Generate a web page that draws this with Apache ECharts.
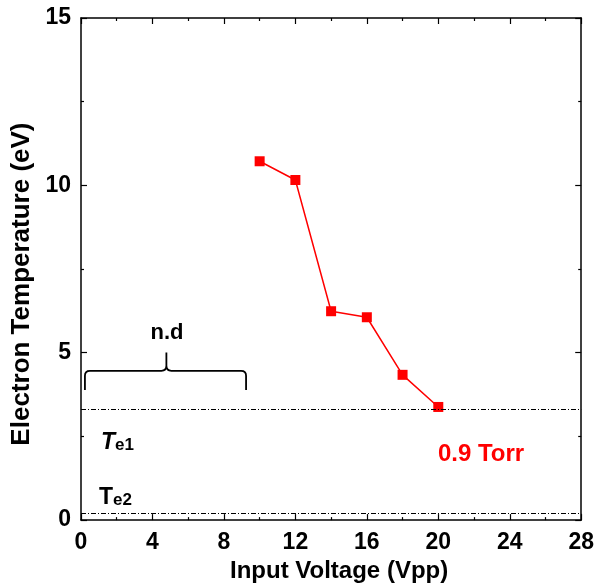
<!DOCTYPE html>
<html>
<head>
<meta charset="utf-8">
<script src="https://cdn.jsdelivr.net/npm/echarts@6/dist/echarts.min.js"></script>
<style>
  html, body { margin: 0; padding: 0; background: #fff; }
  #main { width: 597px; height: 588px; }
</style>
</head>
<body>
<div id="main"></div>
<script>
// data
var voltage = [10, 12, 14, 16, 18, 20];
var temperature = [10.72, 10.16, 6.24, 6.06, 4.34, 3.38];
var te1Level = 3.3;
var te2Level = 0.2;
// brace over the "not detected" range: left/middle/right x, bottom/arm/peak y
var braceX = [0.22, 4.78, 9.24];
var braceY = [3.89, 4.46, 5.01];

var font = 'Arial, "Liberation Sans", sans-serif';
var black = '#000';
var red = '#ff0000';

var myChart = echarts.init(document.getElementById('main'));

function axisBase(show) {
  return {
    type: 'value',
    axisLine: { show: true, onZero: false, lineStyle: { color: black, width: 1.5 } },
    axisTick: { show: true, inside: true, length: 6, lineStyle: { color: black, width: 1.2 } },
    minorTick: { show: true, splitNumber: 2, length: 3, lineStyle: { color: black, width: 1.2 } },
    splitLine: { show: false },
    axisLabel: {
      show: show,
      color: black,
      fontFamily: font,
      fontWeight: 'bold',
      fontSize: 23
    }
  };
}

var xBottom = Object.assign(axisBase(true), {
  min: 0, max: 28, interval: 4, position: 'bottom',
  name: 'Input Voltage (Vpp)', nameLocation: 'middle', nameGap: 33,
  nameTextStyle: { color: black, fontFamily: font, fontWeight: 'bold', fontSize: 24, padding: [0, 0, 0, 16] }
});
xBottom.axisLabel.margin = 11;
var xTop = Object.assign(axisBase(false), { min: 0, max: 28, interval: 4, position: 'top' });

var yLeft = Object.assign(axisBase(true), {
  min: 0, max: 15, interval: 5, position: 'left',
  name: 'Electron Temperature (eV)', nameLocation: 'middle', nameGap: 46,
  nameTextStyle: { color: black, fontFamily: font, fontWeight: 'bold', fontSize: 26, padding: [0, 30, 0, 0] }
});
yLeft.axisLabel.margin = 10;
var yRight = Object.assign(axisBase(false), { min: 0, max: 15, interval: 5, position: 'right' });

var option = {
  backgroundColor: '#fff',
  animation: false,
  grid: { left: 81, right: 14, top: 18, bottom: 67 },
  xAxis: [xBottom, xTop],
  yAxis: [yLeft, yRight],
  series: [
    {
      type: 'line',
      data: voltage.map(function (v, i) { return [v, temperature[i]]; }),
      symbol: 'rect',
      symbolSize: 10,
      itemStyle: { color: red },
      lineStyle: { color: red, width: 1.5 },
      markLine: {
        silent: true,
        symbol: ['none', 'none'],
        label: { show: false },
        lineStyle: { color: black, width: 1, type: [5, 2, 1, 2] },
        data: [{ yAxis: te1Level }, { yAxis: te2Level }]
      },
      z: 3
    },
    {
      type: 'custom',
      data: [[0]],
      renderItem: function (params, api) {
        var l = api.coord([braceX[0], braceY[0]]);
        var m = api.coord([braceX[1], braceY[1]]);
        var r = api.coord([braceX[2], braceY[0]]);
        var p = api.coord([braceX[1], braceY[2]]);
        var c = 5;
        var d = 'M' + l[0] + ' ' + l[1] +
          ' L' + l[0] + ' ' + (m[1] + c) +
          ' Q' + l[0] + ' ' + m[1] + ' ' + (l[0] + c) + ' ' + m[1] +
          ' L' + (m[0] - c) + ' ' + m[1] +
          ' Q' + m[0] + ' ' + m[1] + ' ' + m[0] + ' ' + (m[1] - c) +
          ' L' + m[0] + ' ' + p[1] +
          ' M' + m[0] + ' ' + (m[1] - c) +
          ' Q' + m[0] + ' ' + m[1] + ' ' + (m[0] + c) + ' ' + m[1] +
          ' L' + (r[0] - c) + ' ' + m[1] +
          ' Q' + r[0] + ' ' + m[1] + ' ' + r[0] + ' ' + (m[1] + c) +
          ' L' + r[0] + ' ' + r[1];
        return {
          type: 'path',
          shape: { pathData: d },
          style: { fill: 'none', stroke: black, lineWidth: 1.8 }
        };
      },
      silent: true
    }
  ],
  graphic: [
    {
      type: 'text',
      style: {
        text: 'n.d', x: 167, y: 333, align: 'center', verticalAlign: 'middle',
        fill: black, font: 'bold 22px ' + font
      }
    },
    {
      type: 'text',
      style: {
        text: '{t|T}{s|e1}', x: 101, y: 454, verticalAlign: 'bottom',
        rich: {
          t: { fontFamily: font, fontWeight: 'bold', fontStyle: 'italic', fontSize: 23, fill: black, verticalAlign: 'bottom' },
          s: { fontFamily: font, fontWeight: 'bold', fontSize: 17, fill: black, verticalAlign: 'bottom' }
        }
      }
    },
    {
      type: 'text',
      style: {
        text: '{t|T}{s|e2}', x: 99, y: 509, verticalAlign: 'bottom',
        rich: {
          t: { fontFamily: font, fontWeight: 'bold', fontSize: 23, fill: black, verticalAlign: 'bottom' },
          s: { fontFamily: font, fontWeight: 'bold', fontSize: 17, fill: black, verticalAlign: 'bottom' }
        }
      }
    },
    {
      type: 'text',
      style: {
        text: '0.9 Torr', x: 481, y: 454, align: 'center', verticalAlign: 'middle',
        fill: red, font: 'bold 24px ' + font
      }
    }
  ]
};

myChart.setOption(option);
</script>
</body>
</html>
